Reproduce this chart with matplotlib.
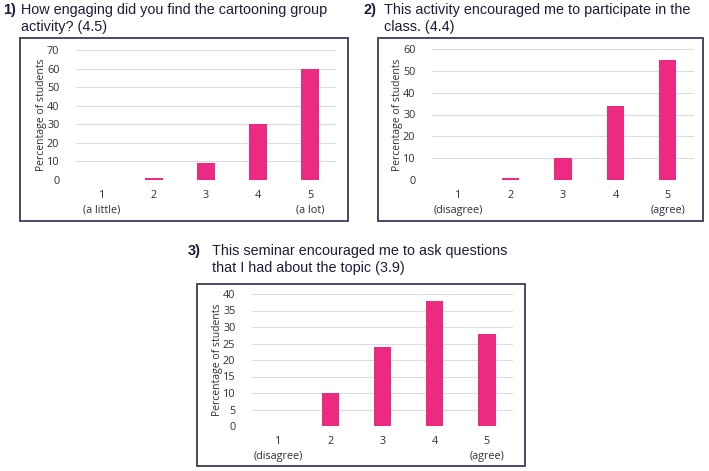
import matplotlib
matplotlib.use("Agg")
import matplotlib.pyplot as plt
from matplotlib.patches import Rectangle

# Data
categories = [1, 2, 3, 4, 5]
q1_values = [0, 1, 9, 30, 60]
q2_values = [0, 1, 10, 34, 55]
q3_values = [0, 10, 24, 38, 28]
q1_labels = ["1\n(a little)", "2", "3", "4", "5\n(a lot)"]
q2_labels = ["1\n(disagree)", "2", "3", "4", "5\n(agree)"]
q3_labels = ["1\n(disagree)", "2", "3", "4", "5\n(agree)"]
q1_title = ["How engaging did you find the cartooning group", "activity? (4.5)"]
q2_title = ["This activity encouraged me to participate in the", "class. (4.4)"]
q3_title = ["This seminar encouraged me to ask questions", "that I had about the topic (3.9)"]

W, H = 709, 471
fig = plt.figure(figsize=(W / 100, H / 100), dpi=100)
fig.patch.set_facecolor("white")

BAR = "#EC2A82"
TXT = "#1c1c3c"
TICK = "#2e2e3e"
GRID = "#dcdcdc"
BOX = "#4a4a66"
TFONT = "Liberation Sans"
AFONT = "Open Sans"


def px_axes(x0, x1, y_top, y_bot):
    return fig.add_axes([x0 / W, 1 - y_bot / H, (x1 - x0) / W, (y_bot - y_top) / H])


def box(x0, x1, y0, y1):
    r = Rectangle((x0 / W, 1 - y1 / H), (x1 - x0) / W, (y1 - y0) / H,
                  transform=fig.transFigure, fill=False, edgecolor=BOX, lw=1.4)
    fig.add_artist(r)


def title(num, lines, xn, xt, y1, y2):
    fig.text(xn / W, 1 - y1 / H, num, fontsize=10.5, fontweight="bold", color=TXT,
             family=TFONT, va="center", ha="left")
    fig.text(xt / W, 1 - y1 / H, lines[0], fontsize=10.4, color=TXT,
             family=TFONT, va="center", ha="left")
    fig.text(xt / W, 1 - y2 / H, lines[1], fontsize=10.4, color=TXT,
             family=TFONT, va="center", ha="left")


def panel(ax, values, labels, ymax, step, ylab_x):
    ax.bar(categories, values, width=0.33, color=BAR, zorder=3)
    ax.set_xlim(0.5, 5.5)
    ax.set_ylim(0, ymax)
    ax.set_yticks(range(0, ymax + 1, step))
    ax.set_xticks(categories)
    ax.set_xticklabels(labels, fontsize=7.8, color=TICK, family=AFONT, linespacing=1.4)
    for t in ax.get_yticklabels():
        t.set_fontsize(7.8)
        t.set_color(TICK)
        t.set_family(AFONT)
    ax.tick_params(axis="both", length=0)
    ax.tick_params(axis="y", pad=12)
    ax.tick_params(axis="x", pad=7.5)
    for s in ax.spines.values():
        s.set_visible(False)
    ax.grid(axis="y", color=GRID, lw=0.8, zorder=0)
    ax.set_facecolor("none")
    ax.set_ylabel("Percentage of students", fontsize=7.5, color=TICK, family=AFONT)
    ax.yaxis.set_label_coords(ylab_x, 0.5)


# Panel 1
box(20, 348, 38, 221)
ax1 = px_axes(76, 336, 50, 180)
panel(ax1, q1_values, q1_labels, 70, 10, -0.11)
title("1)", q1_title, 3, 21, 10, 27)

# Panel 2
box(378, 703, 38, 221)
ax2 = px_axes(432, 694, 49, 180)
panel(ax2, q2_values, q2_labels, 60, 10, -0.11)
title("2)", q2_title, 363, 384, 10, 27)

# Panel 3
box(197, 525, 284, 466)
ax3 = px_axes(252, 513, 294, 426)
panel(ax3, q3_values, q3_labels, 40, 5, -0.11)
title("3)", q3_title, 188, 212, 251, 268)

fig.savefig("out.png", dpi=100, facecolor="white")
